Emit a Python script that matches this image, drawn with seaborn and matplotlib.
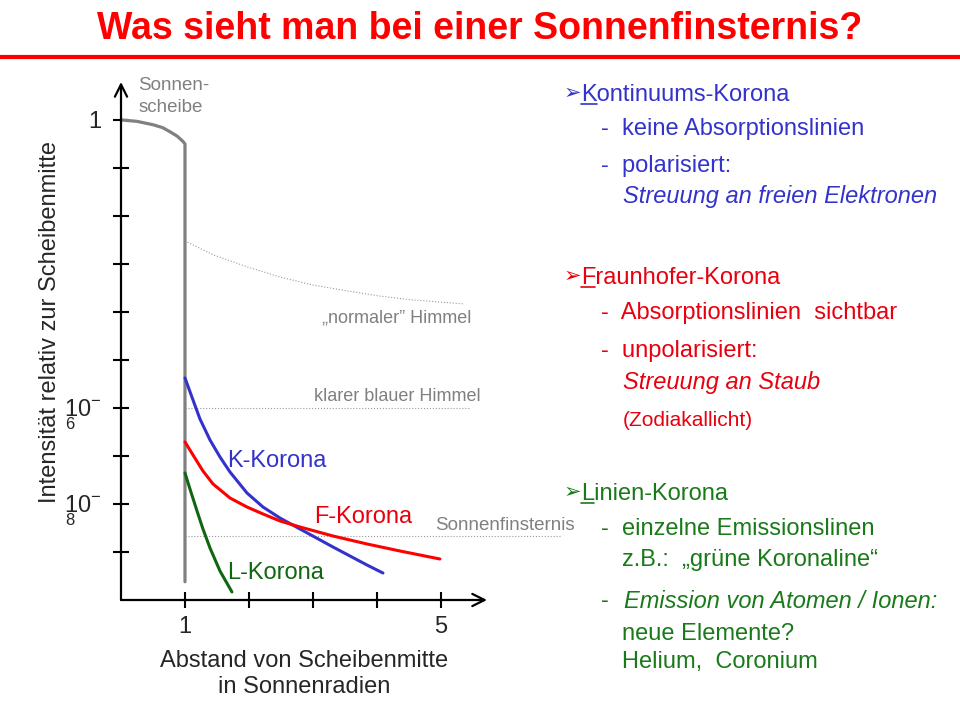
import matplotlib
matplotlib.use("Agg")
import matplotlib.pyplot as plt
import seaborn as sns
import numpy as np
from matplotlib import font_manager
from matplotlib.lines import Line2D
from matplotlib.ticker import NullLocator

# curves: x in Sonnenradien, y as log10 of intensity relative to disc centre
disc_x = [0.0, 0.25, 0.5, 0.65, 0.77, 0.88, 0.97, 1.0, 1.0]
disc_y = [0.0, -0.03, -0.10, -0.16, -0.25, -0.34, -0.45, -0.50, -9.62]

sky_x = [1.0, 1.44, 1.97, 2.48, 3.0, 3.53, 4.05, 4.56, 5.34]
sky_y = [-2.52, -2.81, -3.06, -3.27, -3.44, -3.56, -3.67, -3.75, -3.83]

blue_sky_x = [1.0, 5.45]
blue_sky_y = [-6.0, -6.0]

eclipse_x = [1.0, 6.86]
eclipse_y = [-8.67, -8.67]

k_x = [1.0, 1.125, 1.234, 1.391, 1.547, 1.703, 1.969, 2.219, 2.484, 2.797, 3.313, 3.844, 4.094]
k_y = [-5.375, -5.833, -6.229, -6.667, -7.021, -7.333, -7.771, -8.063, -8.292, -8.521,
       -8.896, -9.271, -9.438]

f_x = [1.0, 1.125, 1.281, 1.438, 1.703, 1.969, 2.219, 2.484, 2.797, 3.313, 3.844, 4.359, 4.984]
f_y = [-6.708, -6.979, -7.313, -7.583, -7.875, -8.063, -8.208, -8.354, -8.479, -8.667,
       -8.833, -8.979, -9.146]

l_x = [1.0, 1.078, 1.188, 1.281, 1.391, 1.547, 1.734]
l_y = [-7.354, -7.688, -8.146, -8.521, -8.917, -9.396, -9.833]

decades = list(range(0, -10, -1))
ytick_labels = ['1', '', '', '', '', '', '10$^{-}$', '', '10$^{-}$', '']
xticks = [1, 2, 3, 4, 5]
xtick_labels = ['1', '', '', '', '5']

BLUE = '#3333cc'
RED = '#ff0000'
RED_TXT = '#e8000f'
GREEN = '#116611'
GREEN_TXT = '#1a7a1a'
GREY = '#808080'

sns.set_style('white')
plt.rcParams['font.family'] = ['Liberation Sans', 'DejaVu Sans']
plt.rcParams['mathtext.fontset'] = 'custom'
plt.rcParams['mathtext.rm'] = 'Liberation Sans'
plt.rcParams['mathtext.it'] = 'Liberation Sans:italic'

names = {f.name for f in font_manager.fontManager.ttflist}
title_font = 'Liberation Sans Narrow' if 'Liberation Sans Narrow' in names else 'Liberation Sans'
title_size = 31 if title_font == 'Liberation Sans Narrow' else 27

fig = plt.figure(figsize=(9.6, 7.2), dpi=100)
ax = fig.add_axes([121 / 960, 1 - 600 / 720, 366 / 960, 518 / 720])


def fx(px):
    return px / 960


def fy(py):
    return 1 - py / 720


def line(xs, ys, color, lw, ls='-', clip=True):
    sns.lineplot(x=xs, y=10.0 ** np.array(ys), ax=ax, color=color, lw=lw,
                 linestyle=ls, sort=False, estimator=None)
    ln = ax.lines[-1]
    ln.set_clip_on(clip)
    ln.set_solid_joinstyle('round')


line(sky_x, sky_y, '#9a9a9a', 0.8, ':')
line(blue_sky_x, blue_sky_y, '#9a9a9a', 0.8, ':')
line(eclipse_x, eclipse_y, '#9a9a9a', 0.8, ':', clip=False)
line(disc_x, disc_y, GREY, 2.3)
line(k_x, k_y, BLUE, 2.2)
line(f_x, f_y, RED, 2.2)
line(l_x, l_y, GREEN, 2.2)

ax.set_yscale('log')
ax.set_xlim(0, 5.72)
ax.set_ylim(1e-10, 10 ** 0.79)
ax.set_yticks([10.0 ** d for d in decades])
ax.set_yticklabels(ytick_labels)
ax.yaxis.set_minor_locator(NullLocator())
ax.set_xticks(xticks)
ax.set_xticklabels(xtick_labels)
ax.tick_params(axis='y', direction='inout', length=12, width=1.5, color='black',
               labelsize=17, pad=8, left=True)
ax.tick_params(axis='x', direction='inout', length=11, width=1.5, color='black',
               labelsize=17, pad=6, bottom=True)
for s in ax.spines.values():
    s.set_visible(False)
ax.patch.set_alpha(0)

arrow = dict(arrowstyle='->', lw=1.6, color='black', mutation_scale=22, shrinkA=0, shrinkB=0)
ax.annotate('', xy=(0, 1), xytext=(0, 0), xycoords='axes fraction', arrowprops=arrow)
ax.annotate('', xy=(1, 0), xytext=(0, 0), xycoords='axes fraction', arrowprops=arrow)

for d, lab in [(-6, '6'), (-8, '8')]:
    ax.annotate(lab, xy=(0, 10.0 ** d), xycoords=('axes fraction', 'data'),
                xytext=(-51, -17), textcoords='offset pixels', fontsize=12,
                ha='center', va='center')

ax.set_xlabel('Abstand von Scheibenmitte\nin Sonnenradien', fontsize=17, linespacing=1.2,
              labelpad=9)
ax.set_ylabel('Intensität relativ zur Scheibenmitte', fontsize=17)
ax.yaxis.set_label_coords(-0.165, 0.537)

# labels inside the diagram
ax.text(0.27, 10 ** 0.49, 'Sonnen-\nscheibe', color=GREY, fontsize=13.5, va='center',
        linespacing=1.35)
ax.text(3.14, 10 ** -4.125, '\u201enormaler\u201d Himmel', color=GREY, fontsize=13, va='center')
ax.text(3.02, 10 ** -5.77, 'klarer blauer Himmel', color=GREY, fontsize=13, va='center')
ax.text(4.91, 10 ** -8.44, 'Sonnenfinsternis', color=GREY, fontsize=13.5, va='center',
        clip_on=False)
ax.text(1.66, 10 ** -7.10, 'K-Korona', color=BLUE, fontsize=17, va='center')
ax.text(3.02, 10 ** -8.27, 'F-Korona', color=RED_TXT, fontsize=17, va='center')
ax.text(1.66, 10 ** -9.44, 'L-Korona', color=GREEN, fontsize=17, va='center')

# title and rule
fig.text(0.5, fy(29), 'Was sieht man bei einer Sonnenfinsternis?', ha='center', va='center',
         color=RED, fontsize=title_size, fontweight='bold', family=title_font)
fig.add_artist(Line2D([0, 1], [fy(57), fy(57)], color=RED, lw=3, transform=fig.transFigure))

# right-hand text block
FS = 17
underlined = []


def head(py, text, color):
    fig.text(fx(564), fy(py - 8), '\u27a2', color=color, fontsize=15, va='center',
             family='DejaVu Sans')
    fig.text(fx(581), fy(py), text, color=color, fontsize=FS, va='baseline')
    first = fig.text(fx(581), fy(py), text[0], fontsize=FS, va='baseline', alpha=0)
    underlined.append((first, color))


def item(px, py, text, color, style='normal', size=FS):
    fig.text(fx(px), fy(py), text, color=color, fontsize=size, va='center', style=style)


head(101, 'Kontinuums-Korona', BLUE)
item(601, 129, '-  keine Absorptionslinien', BLUE)
item(601, 166, '-  polarisiert:', BLUE)
item(623, 197, 'Streuung an freien Elektronen', BLUE, 'italic')

head(284, 'Fraunhofer-Korona', RED_TXT)
item(601, 313, '-  Absorptionslinien  sichtbar', RED_TXT)
item(601, 351, '-  unpolarisiert:', RED_TXT)
item(623, 382, 'Streuung an Staub', RED_TXT, 'italic')
item(623, 420, '(Zodiakallicht)', RED_TXT, size=15)

head(500, 'Linien-Korona', GREEN_TXT)
item(601, 529, '-  einzelne Emissionslinen', GREEN_TXT)
item(622, 560, 'z.B.:  \u201egrüne Koronaline\u201c', GREEN_TXT)
item(601, 601, '-', GREEN_TXT)
item(624, 601, 'Emission von Atomen / Ionen:', GREEN_TXT, 'italic')
item(622, 634, 'neue Elemente?', GREEN_TXT)
item(622, 662, 'Helium,  Coronium', GREEN_TXT)

# underline the first letter of each heading
fig.canvas.draw()
for t, color in underlined:
    bb = t.get_window_extent()
    ypix = t.get_position()[1] * 720 - 3
    fig.add_artist(Line2D([bb.x0 / 960, bb.x1 / 960], [ypix / 720, ypix / 720], color=color,
                          lw=1.2, transform=fig.transFigure))

fig.savefig('out.png', dpi=100)
